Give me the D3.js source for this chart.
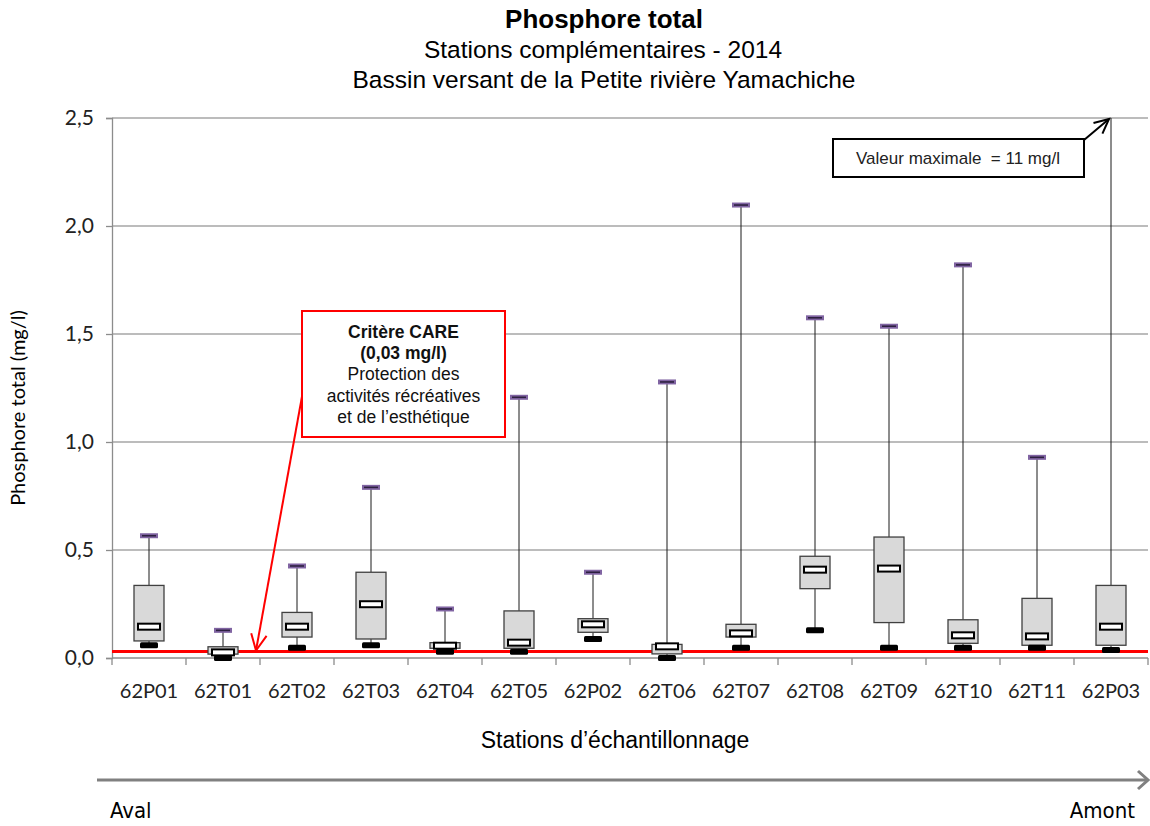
<!DOCTYPE html>
<html>
<head>
<meta charset="utf-8">
<script src="https://cdn.jsdelivr.net/npm/d3@7/dist/d3.min.js"></script>
<style>
  html, body { margin: 0; padding: 0; background: #fff; }
  svg { display: block; }
</style>
</head>
<body>
<svg id="chart" width="1150" height="826"></svg>
<script>
// Stations, from downstream (Aval) to upstream (Amont)
const stations = ["62P01","62T01","62T02","62T03","62T04","62T05","62P02","62T06","62T07","62T08","62T09","62T10","62T11","62P03"];
// Box-plot statistics, mg/l
const minimum  = [0.059, 0.000, 0.048, 0.059, 0.029, 0.029, 0.088, 0.000, 0.048, 0.128, 0.048, 0.048, 0.048, 0.037];
const quart1   = [0.079, 0.018, 0.097, 0.088, 0.045, 0.045, 0.119, 0.019, 0.097, 0.321, 0.164, 0.068, 0.059, 0.059];
const mediane  = [0.145, 0.026, 0.145, 0.249, 0.057, 0.071, 0.156, 0.054, 0.114, 0.409, 0.414, 0.105, 0.100, 0.145];
const quart3   = [0.336, 0.052, 0.211, 0.397, 0.071, 0.218, 0.182, 0.063, 0.156, 0.471, 0.560, 0.177, 0.276, 0.336];
const maximum  = [0.566, 0.128, 0.426, 0.790, 0.227, 1.207, 0.397, 1.278, 2.097, 1.575, 1.536, 1.820, 0.929, 11];
const yTicks   = [0, 0.5, 1.0, 1.5, 2.0, 2.5];
const critere  = 0.03;   // CARE criterion, mg/l
const yMax     = 2.5;

const svg = d3.select("#chart");
const margin = { left: 112, right: 2, top: 118, bottom: 168 };
const W = 1150, H = 826;

const x = d3.scaleBand().domain(stations).range([margin.left, W - margin.right]).padding(0);
const y = d3.scaleLinear().domain([0, yMax]).range([H - margin.bottom, margin.top]);

const fmt = d => d3.format(".1f")(d).replace(".", ",");
const labelFont = "Lato, 'Open Sans', sans-serif";
const arial = "'Liberation Sans', Arial, sans-serif";

// Horizontal grid
svg.append("g")
  .selectAll("line")
  .data(yTicks.filter(t => t > 0))
  .join("line")
  .attr("x1", margin.left).attr("x2", W - margin.right)
  .attr("y1", d => y(d)).attr("y2", d => y(d))
  .attr("stroke", "#a6a6a6").attr("stroke-width", 1.3);

// Y axis
const yAxis = svg.append("g")
  .attr("transform", `translate(${margin.left},0)`)
  .call(d3.axisLeft(y).tickValues(yTicks).tickFormat(fmt).tickSize(6).tickPadding(12));
yAxis.select(".domain").attr("stroke", "#8c8c8c").attr("stroke-width", 1.3);
yAxis.selectAll(".tick line").attr("stroke", "#8c8c8c").attr("stroke-width", 1.3);
yAxis.selectAll("text").attr("font-family", labelFont).attr("font-size", 21).attr("fill", "#222");

// X axis with ticks between categories
const xAxisG = svg.append("g").attr("transform", `translate(0,${y(0)})`);
xAxisG.append("line")
  .attr("x1", margin.left).attr("x2", W - margin.right)
  .attr("stroke", "#8c8c8c").attr("stroke-width", 1.3);
xAxisG.selectAll("line.sep")
  .data(stations.map(s => x(s)).concat([x(stations[stations.length - 1]) + x.bandwidth()]))
  .join("line").attr("class", "sep")
  .attr("x1", d => d).attr("x2", d => d)
  .attr("y1", 0).attr("y2", 7)
  .attr("stroke", "#8c8c8c").attr("stroke-width", 1.3);
xAxisG.selectAll("text")
  .data(stations)
  .join("text")
  .attr("x", d => x(d) + x.bandwidth() / 2)
  .attr("y", 40)
  .attr("text-anchor", "middle")
  .attr("font-family", labelFont).attr("font-size", 20).attr("fill", "#222")
  .text(d => d);

// CARE criterion line
svg.append("line")
  .attr("x1", margin.left).attr("x2", W - margin.right)
  .attr("y1", y(critere)).attr("y2", y(critere))
  .attr("stroke", "#ff0000").attr("stroke-width", 3);

// Box plots
const boxW = 30;
const cx = i => x(stations[i]) + x.bandwidth() / 2;
const g = svg.append("g");
stations.forEach((s, i) => {
  const c = cx(i);
  const topV = Math.min(maximum[i], yMax);
  // whiskers
  g.append("line").attr("x1", c).attr("x2", c)
    .attr("y1", y(quart3[i])).attr("y2", y(topV))
    .attr("stroke", "#1a1a1a").attr("stroke-width", 1);
  g.append("line").attr("x1", c).attr("x2", c)
    .attr("y1", y(quart1[i])).attr("y2", y(minimum[i]))
    .attr("stroke", "#1a1a1a").attr("stroke-width", 1);
  // box
  g.append("rect")
    .attr("x", c - boxW / 2).attr("width", boxW)
    .attr("y", y(quart3[i])).attr("height", y(quart1[i]) - y(quart3[i]))
    .attr("fill", "#d9d9d9").attr("stroke", "#404040").attr("stroke-width", 1.3);
  // minimum marker
  g.append("rect")
    .attr("x", c - 9).attr("width", 18)
    .attr("y", y(minimum[i]) - 3).attr("height", 6).attr("rx", 1.5)
    .attr("fill", "#000");
  // median marker
  g.append("rect")
    .attr("x", c - 11).attr("width", 22)
    .attr("y", y(mediane[i]) - 3).attr("height", 6)
    .attr("fill", "#fff").attr("stroke", "#000").attr("stroke-width", 2);
  // maximum marker (when within the axis range)
  if (maximum[i] <= yMax) {
    g.append("rect")
      .attr("x", c - 9).attr("width", 18)
      .attr("y", y(maximum[i]) - 2.5).attr("height", 5)
      .attr("fill", "#8064a2");
    g.append("line")
      .attr("x1", c - 7).attr("x2", c + 7)
      .attr("y1", y(maximum[i])).attr("y2", y(maximum[i]))
      .attr("stroke", "#2d2040").attr("stroke-width", 1.6);
  }
});

// Arrowhead helper (open V)
function openArrow(sel, x1, y1, x2, y2, color, width, len) {
  const a = Math.atan2(y2 - y1, x2 - x1);
  const spread = Math.PI / 7;
  const p1 = [x2 - len * Math.cos(a - spread), y2 - len * Math.sin(a - spread)];
  const p2 = [x2 - len * Math.cos(a + spread), y2 - len * Math.sin(a + spread)];
  sel.append("line").attr("x1", x1).attr("y1", y1).attr("x2", x2).attr("y2", y2)
    .attr("stroke", color).attr("stroke-width", width);
  sel.append("path")
    .attr("d", `M${p1[0]},${p1[1]}L${x2},${y2}L${p2[0]},${p2[1]}`)
    .attr("fill", "none").attr("stroke", color).attr("stroke-width", width)
    .attr("stroke-linejoin", "miter");
}

// Maximum-value callout for the last station
const lastC = cx(stations.length - 1);
const ann = svg.append("g");
openArrow(ann, 1084, 140, lastC - 2, y(yMax) + 1, "#000", 2, 16);
ann.append("rect").attr("x", 833).attr("y", 139).attr("width", 251).attr("height", 38)
  .attr("fill", "#fff").attr("stroke", "#000").attr("stroke-width", 2);
ann.append("text").attr("x", 958).attr("y", 164).attr("text-anchor", "middle")
  .attr("font-family", arial).attr("font-size", 17).attr("fill", "#222")
  .attr("xml:space", "preserve")
  .text("Valeur maximale  = 11 mg/l");

// CARE callout
const care = svg.append("g");
openArrow(care, 303, 391, 256, y(critere) - 1, "#ff0000", 2, 18);
care.append("rect").attr("x", 302).attr("y", 311).attr("width", 203).attr("height", 126)
  .attr("fill", "#fff").attr("stroke", "#ff0000").attr("stroke-width", 2);
const careLines = [
  { t: "Critère CARE", b: true },
  { t: "(0,03 mg/l)", b: true },
  { t: "Protection des", b: false },
  { t: "activités récréatives", b: false },
  { t: "et de l’esthétique", b: false }
];
care.selectAll("text").data(careLines).join("text")
  .attr("x", 403.5).attr("y", (d, i) => 338 + i * 21.2)
  .attr("text-anchor", "middle")
  .attr("font-family", arial).attr("font-size", 17.5)
  .attr("font-weight", d => d.b ? "bold" : "normal")
  .attr("fill", "#111")
  .text(d => d.t);

// Titles
svg.append("text").attr("x", 604).attr("y", 28).attr("text-anchor", "middle")
  .attr("font-family", arial).attr("font-size", 26).attr("font-weight", "bold").attr("fill", "#000")
  .text("Phosphore total");
svg.append("text").attr("x", 603).attr("y", 58).attr("text-anchor", "middle")
  .attr("font-family", arial).attr("font-size", 24.5).attr("fill", "#000")
  .text("Stations complémentaires - 2014");
svg.append("text").attr("x", 604).attr("y", 88).attr("text-anchor", "middle")
  .attr("font-family", arial).attr("font-size", 24.5).attr("fill", "#000")
  .text("Bassin versant de la Petite rivière Yamachiche");

// Axis titles
svg.append("text")
  .attr("transform", `translate(25,${(y(0) + y(yMax)) / 2 + 20}) rotate(-90)`)
  .attr("text-anchor", "middle")
  .attr("font-family", labelFont).attr("font-size", 20).attr("fill", "#000")
  .text("Phosphore total (mg/l)");
svg.append("text").attr("x", 615).attr("y", 748).attr("text-anchor", "middle")
  .attr("font-family", arial).attr("font-size", 23).attr("fill", "#000")
  .text("Stations d’échantillonnage");

// Downstream → upstream arrow
const flow = svg.append("g");
flow.append("line").attr("x1", 97).attr("x2", 1146).attr("y1", 780).attr("y2", 780)
  .attr("stroke", "#808080").attr("stroke-width", 3);
flow.append("path").attr("d", "M1138,771L1148,780L1138,789")
  .attr("fill", "none").attr("stroke", "#808080").attr("stroke-width", 3);
flow.append("text").attr("x", 110).attr("y", 818)
  .attr("font-family", "'DejaVu Sans Condensed', 'DejaVu Sans', sans-serif")
  .attr("font-size", 22).attr("fill", "#000").text("Aval");
flow.append("text").attr("x", 1135).attr("y", 818).attr("text-anchor", "end")
  .attr("font-family", "'DejaVu Sans Condensed', 'DejaVu Sans', sans-serif")
  .attr("font-size", 22).attr("fill", "#000").text("Amont");
</script>
</body>
</html>
